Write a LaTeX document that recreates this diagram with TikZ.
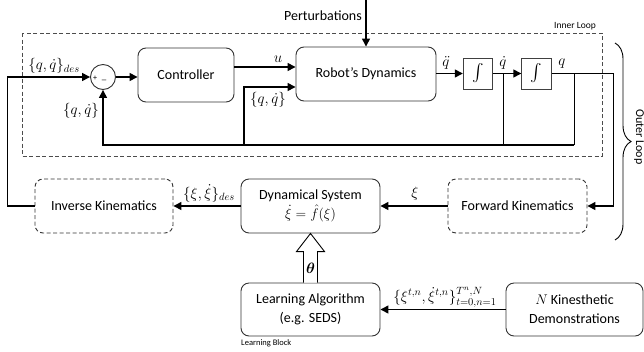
\RequirePackage{fix-cm}
\documentclass[tikz,border=0pt]{standalone}
\usepackage{amsmath}
\usepackage{fontspec}
\setmainfont{Carlito}
\usetikzlibrary{arrows.meta,calc,decorations.pathreplacing}

\newcommand{\boxfont}{\fontsize{14}{19}\selectfont}
\newcommand{\mathlbl}{\fontsize{15}{18}\selectfont}
\newcommand{\smallnote}{\fontsize{9.5}{11}\selectfont}

\tikzset{
  blk/.style={draw=black!80, line width=0.9pt, rounded corners=8pt,
    minimum width=#1, minimum height=54pt, inner sep=0pt,
    align=center, font=\boxfont},
  blk/.default=139pt,
  dblk/.style={blk=#1, dash pattern=on 4pt off 2.5pt},
  dblk/.default=139pt,
  intbox/.style={draw=black!75, line width=0.9pt, minimum width=29.5pt,
    minimum height=31pt, inner sep=0pt, font=\fontsize{19}{19}\selectfont},
  conn/.style={line width=1.4pt, -{Triangle[length=8pt,width=8pt]}},
  thinwire/.style={line width=0.8pt},
  lbl/.style={inner sep=0pt, font=\mathlbl},
}

\begin{document}
\begin{tikzpicture}[x=1pt, y=-1pt]
\useasboundingbox (0,0) rectangle (644,351);

% inner loop frame
\draw[black!70, line width=0.8pt, dash pattern=on 4pt off 2.5pt]
  (22,33) rectangle (602,156);
\node[font=\smallnote, inner sep=0pt] (innerlbl) at (575,26) {Inner Loop};

% blocks of the inner loop
\node[draw=black!80, line width=0.9pt, circle, minimum size=25pt, inner sep=0pt] (sum) at (103,77) {};
\node[font=\fontsize{8}{8}\selectfont, inner sep=0pt] (plus) at (95,78) {+};
\node[font=\fontsize{9}{9}\selectfont, inner sep=0pt] (minus) at (104,80) {\_};
\node[blk=96pt] (ctrl) at (186,75) {Controller};
\node[blk=140pt] (robot) at (366,74) {Robot’s Dynamics};
\node[intbox] (int1) at (478,73.5) {$\int$};
\node[intbox] (int2) at (536.5,73.5) {$\int$};

% outer loop blocks
\node[dblk=138pt] (ik) at (104,206) {Inverse Kinematics};
\node[blk] (ds) at (310.5,206) {Dynamical System\\$\dot{\xi}=\hat{f}(\xi)$};
\node[dblk] (fk) at (517.5,206) {Forward Kinematics};

% learning blocks
\node[blk, minimum height=53pt] (la) at (310.5,309.5) {Learning Algorithm\\(e.g. SEDS)};
\node[blk=137pt, minimum height=53pt] (nkd) at (574.5,309.5) {$N$ Kinesthetic\\Demonstrations};
\node[font=\fontsize{8.5}{10}\selectfont, inner sep=0pt, anchor=west] (lblock) at (241,343) {Learning Block};

% perturbations input
\coordinate (ptop) at (366,0);
\draw[conn] (ptop) -- (robot.north);
\node[font=\boxfont, inner sep=0pt, anchor=east] (pert) at (362,16) {Perturbations};

% desired joint state into the summing junction
\draw[conn] (ik.west) -- ++(-27,0) |- (sum.west);
\node[lbl] (qdes) at (54,66) {$\{q,\dot{q}\}_{des}$};

% forward path
\draw[conn] (sum.east) -- (sum.east -| ctrl.west);
\coordinate (uout) at (234,67);
\draw[conn] (uout) -- (uout -| robot.west);
\node[lbl] (ulbl) at (278,59) {$u$};
\draw[conn] (robot.east |- int1.west) -- (int1.west);
\node[lbl] (qdd) at (446,63) {$\ddot{q}$};
\draw[conn] (int1.east) -- (int2.west);
\node[lbl] (qd) at (503,63) {$\dot{q}$};
\node[lbl] (qlbl) at (562,64) {$q$};

% state taps and feedback
\coordinate (qdtap) at (503,73.5);
\coordinate (qtap) at (574,73.5);
\coordinate (fbr) at (574,145);
\coordinate (fbm) at (244,145);
\coordinate (qin) at (244,87);
\draw[thinwire] (qdtap) -- (qdtap |- fbr);
\draw[thinwire] (qtap) -- (fbr);
\draw[conn] (fbr) -- (fbr -| sum.south) -- (sum.south);
\node[lbl] (qfb) at (81,111) {$\{q,\dot{q}\}$};
\draw[conn] (fbm) -- (qin) -- (qin -| robot.west);
\node[lbl] (qrob) at (268,100) {$\{q,\dot{q}\}$};

% joint position out to forward kinematics
\draw[conn] (int2.east) -- ++(62,0) |- (fk.east);

% task space signals
\draw[conn] (fk.west) -- (ds.east);
\node[lbl] (xilbl) at (415,194) {$\xi$};
\draw[conn] (ds.west) -- (ik.east);
\node[lbl] (xides) at (209,193) {$\{\xi,\dot{\xi}\}_{des}$};

% demonstrations to learning algorithm
\draw[conn] (nkd.west) -- (la.east);
\node[lbl] (demo) at (445,297) {$\{\xi^{t,n},\dot{\xi}^{t,n}\}_{t=0,n=1}^{T^n,N}$};

% parameter arrow from learning to dynamical system
\draw[line width=0.9pt, fill=white]
  ($(la.north)+(-7,0)$) -- ($(la.north)+(-7,-31)$) -- ($(la.north)+(-14,-31)$)
  -- (ds.south) -- ($(la.north)+(14,-31)$) -- ($(la.north)+(7,-31)$)
  -- ($(la.north)+(7,0)$);
\node[lbl] (theta) at (310.5,268) {$\boldsymbol{\theta}$};

% outer loop brace
\coordinate (btop) at (615,43);
\coordinate (bbot) at (615,240);
\draw[line width=0.9pt, decorate, decoration={brace, amplitude=16pt}] (btop) -- (bbot);
\node[font=\fontsize{12}{12}\selectfont, inner sep=0pt, rotate=-90] (outerlbl) at (639,137) {Outer Loop};
\end{tikzpicture}
\end{document}
